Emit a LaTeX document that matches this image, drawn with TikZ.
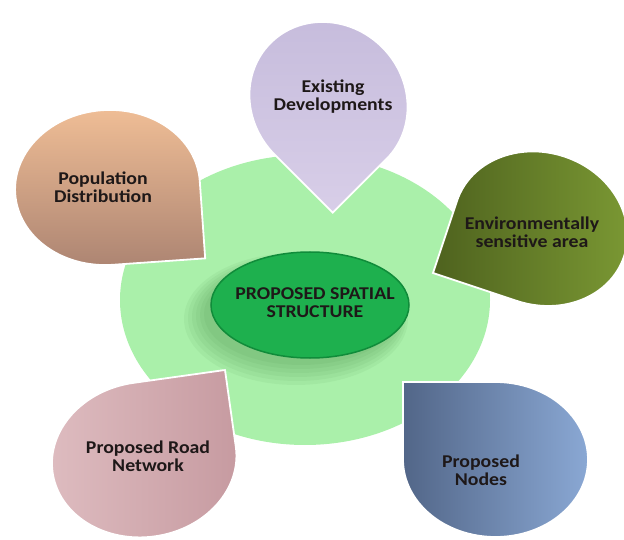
\documentclass[tikz,border=0pt]{standalone}
\usepackage{fontspec}
\setmainfont{Carlito}[FakeStretch=1.1]
\definecolor{bggreen}{RGB}{170,240,170}
\definecolor{midgreen}{RGB}{30,176,78}
\definecolor{rimgreen}{RGB}{16,140,58}
\definecolor{shadegreen}{RGB}{50,120,50}
\definecolor{lilactop}{RGB}{198,188,220}
\definecolor{lilacbot}{RGB}{216,206,232}
\definecolor{tantop}{RGB}{240,190,150}
\definecolor{tanbot}{RGB}{172,132,114}
\definecolor{oliveleft}{RGB}{78,98,30}
\definecolor{oliveright}{RGB}{124,154,52}
\definecolor{blueleft}{RGB}{82,102,136}
\definecolor{blueright}{RGB}{138,168,212}
\definecolor{pinkleft}{RGB}{222,188,192}
\definecolor{pinkright}{RGB}{198,154,160}
\definecolor{labeltext}{RGB}{30,24,24}

\begin{document}
\begin{tikzpicture}[x=1pt,y=1pt,
  droptext/.style={font=\fontsize{18}{18}\selectfont\bfseries,text=labeltext,align=center},
  dropedge/.style={draw=white,line width=1.8pt},
  hubshadow/.style={shadegreen,opacity=0.06}]
\useasboundingbox (0,0) rectangle (624,539);
\fill[bggreen] (305,239) ellipse[x radius=185,y radius=145];
\begin{scope}[shift={(328.5,438)},rotate=-45]
\shadedraw[dropedge,top color=lilactop,bottom color=lilacbot] (82,-76) -- (82,0) arc[start angle=0,end angle=270,x radius=82,y radius=76] -- cycle;
\end{scope}
\begin{scope}[shift={(107.5,351.5)},rotate=4]
\shadedraw[dropedge,top color=tantop,bottom color=tanbot] (92.5,-77.5) -- (92.5,0) arc[start angle=0,end angle=270,x radius=92.5,y radius=77.5] -- cycle;
\end{scope}
\begin{scope}[shift={(540.5,310.3)},rotate=-18.4,xscale=-1]
\shadedraw[dropedge,left color=oliveleft,right color=oliveright] (88,-76) -- (88,0) arc[start angle=0,end angle=270,x radius=88,y radius=76] -- cycle;
\end{scope}
\begin{scope}[shift={(495.5,79.5)},rotate=180]
\shadedraw[dropedge,left color=blueleft,right color=blueright] (92.5,-77.5) -- (92.5,0) arc[start angle=0,end angle=270,x radius=92.5,y radius=77.5] -- cycle;
\end{scope}
\begin{scope}[shift={(144.2,79.4)},rotate=8,yscale=-1]
\shadedraw[dropedge,left color=pinkleft,right color=pinkright] (92.5,-77.5) -- (92.5,0) arc[start angle=0,end angle=270,x radius=92.5,y radius=77.5] -- cycle;
\end{scope}
\fill[hubshadow] (296,220) ellipse[x radius=112,y radius=66];
\fill[hubshadow] (297,221) ellipse[x radius=109,y radius=63];
\fill[hubshadow] (298,222) ellipse[x radius=106,y radius=60];
\fill[hubshadow] (299,223) ellipse[x radius=103,y radius=57];
\fill[hubshadow] (300,224) ellipse[x radius=100,y radius=54];
\fill[hubshadow] (301,225) ellipse[x radius=97,y radius=51];
\filldraw[fill=midgreen,draw=rimgreen,line width=1.5pt] (310,234) ellipse[x radius=99,y radius=53];
\node[droptext] (exist) at (333,442) {Existing\\Developments};
\node[droptext] (popul) at (103,352) {Population\\Distribution};
\node[droptext] (enviro) at (532,307) {Environmentally\\sensitive area};
\node[droptext] (hub) at (315,236) {PROPOSED SPATIAL\\STRUCTURE};
\node[droptext] (road) at (148,83) {Proposed Road\\Network};
\node[droptext] (pnodes) at (481,69) {Proposed\\Nodes};
\end{tikzpicture}
\end{document}
